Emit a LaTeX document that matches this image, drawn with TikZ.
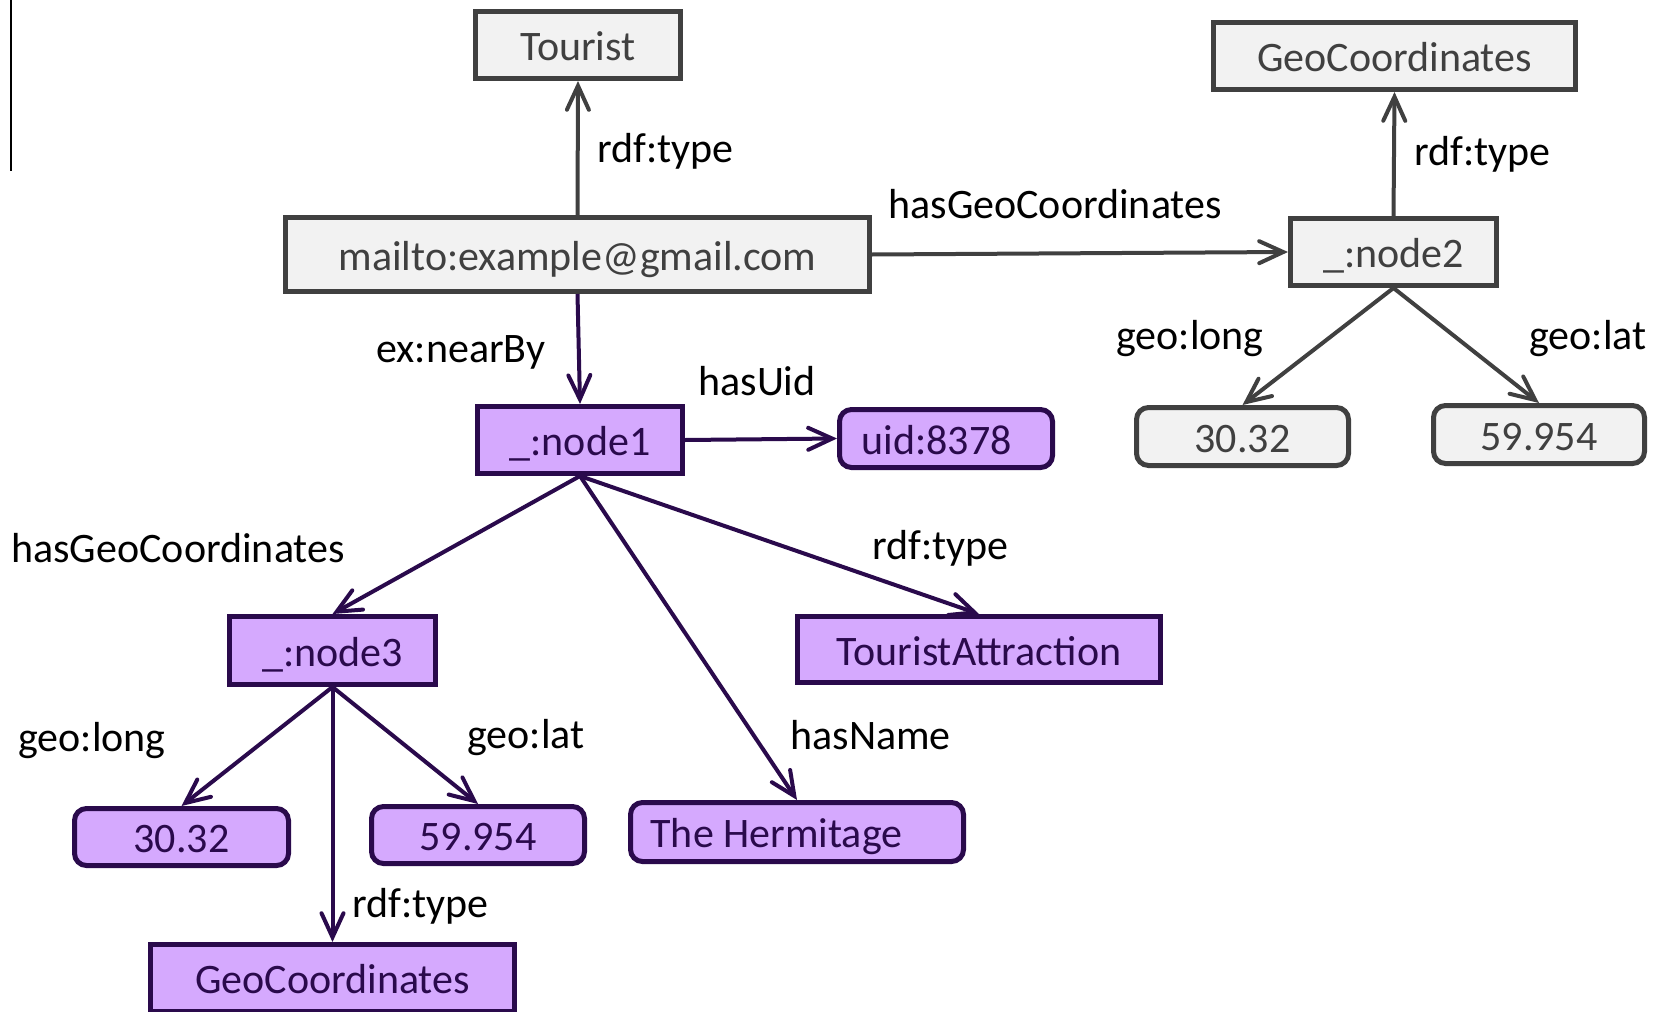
\documentclass[tikz,border=0pt]{standalone}
\usepackage{fontspec}
\setmainfont{Carlito}
\usetikzlibrary{arrows.meta}

\definecolor{greyline}{HTML}{404040}
\definecolor{greyfill}{HTML}{F2F2F2}
\definecolor{purpline}{HTML}{2A0A4C}
\definecolor{purpfill}{HTML}{D5A9FE}

\tikzset{
  txt/.style={font=\fontsize{21}{25}\selectfont},
  boxbase/.style={txt, line width=2.5pt, inner sep=0pt,
    text height=15.5pt, text depth=0pt},
  greybox/.style={boxbase, draw=greyline, fill=greyfill, text=greyline},
  purpbox/.style={boxbase, draw=purpline, fill=purpfill, text=purpline},
  literal/.style={rounded corners=6pt},
  edgelabel/.style={txt, text=black, inner sep=0pt, anchor=west},
  tip/.style={-{Straight Barb[length=12pt,width=11pt,line width=2pt,line cap=round]}},
  greyarrow/.style={draw=greyline, line width=2pt, tip},
  purparrow/.style={draw=purpline, line width=2pt, tip},
}

\begin{document}
\begin{tikzpicture}[x=0.5pt,y=-0.5pt]
  \useasboundingbox (0,0) rectangle (1658,1011);

  % margin rule on the left
  \draw[line width=1pt, black] (11,0) -- (11,171);

  % grey part of the graph
  \node[greybox, minimum width=102.5pt, minimum height=33.5pt] (tourist) at (578,45) {Tourist};
  \node[greybox, minimum width=292pt, minimum height=37pt] (mail) at (577.5,254.5) {mailto:example@gmail.com};
  \node[greybox, minimum width=181pt, minimum height=33.5pt] (geotr) at (1394.5,56) {GeoCoordinates};
  \node[greybox, minimum width=103pt, minimum height=33.5pt] (node2) at (1393.5,252) {\_:node2};
  \node[greybox, literal, minimum width=106pt, minimum height=29pt] (longr) at (1242.5,436.5) {30.32};
  \node[greybox, literal, minimum width=105.5pt, minimum height=29pt] (latr) at (1539,434.5) {59.954};

  % purple part of the graph
  \node[purpbox, minimum width=102.5pt, minimum height=33.5pt] (node1) at (580,440) {\_:node1};
  \node[purpbox, literal, minimum height=29pt, inner xsep=11pt] (uid) at (946,438.5) {\makebox[84.5pt][l]{uid:8378}};
  \node[purpbox, minimum width=103pt, minimum height=34pt] (node3) at (332.5,650.5) {\_:node3};
  \node[purpbox, minimum width=181.5pt, minimum height=33pt] (attr) at (979,649.5) {TouristAttraction};
  \node[purpbox, literal, minimum width=107pt, minimum height=28.5pt] (longl) at (181.5,837) {30.32};
  \node[purpbox, literal, minimum width=106.5pt, minimum height=28.5pt] (latl) at (478,835) {59.954};
  \node[purpbox, literal, minimum height=29.5pt, inner xsep=10pt] (herm) at (797,832) {\makebox[146.5pt][l]{The Hermitage}};
  \node[purpbox, minimum width=182pt, minimum height=33.5pt] (geob) at (332.5,978) {GeoCoordinates};

  % connectors
  \draw[greyarrow] (mail.north) -- (tourist.south);
  \draw[greyarrow] (mail.east) -- (node2.west);
  \draw[greyarrow] (node2.north) -- (geotr.south);
  \draw[greyarrow] (node2.south) -- (longr.north);
  \draw[greyarrow] (node2.south) -- (latr.north);

  \draw[purparrow] (mail.south) -- (node1.north);
  \draw[purparrow] (node1.east) -- (uid.west);
  \draw[purparrow] (node1.south) -- (node3.north);
  \draw[purparrow] (node1.south) -- (attr.north);
  \draw[purparrow] (node1.south) -- (herm.north);
  \draw[purparrow] (node3.south) -- (longl.north);
  \draw[purparrow] (node3.south) -- (latl.north);
  \draw[purparrow] (node3.south) -- (geob.north);

  % edge labels
  \node[edgelabel] (l1) at (597,151) {rdf:type};
  \node[edgelabel] (l2) at (888,204) {hasGeoCoordinates};
  \node[edgelabel] (l3) at (1414,154) {rdf:type};
  \node[edgelabel] (l4) at (1116,339) {geo:long};
  \node[edgelabel] (l5) at (1529,339) {geo:lat};
  \node[edgelabel] (l6) at (376,352) {ex:nearBy};
  \node[edgelabel] (l7) at (698,381) {hasUid};
  \node[edgelabel] (l8) at (11,548) {hasGeoCoordinates};
  \node[edgelabel] (l9) at (872,548) {rdf:type};
  \node[edgelabel] (l10) at (18,741) {geo:long};
  \node[edgelabel] (l11) at (467,738) {geo:lat};
  \node[edgelabel] (l12) at (790,735) {hasName};
  \node[edgelabel] (l13) at (352,906) {rdf:type};
\end{tikzpicture}
\end{document}
